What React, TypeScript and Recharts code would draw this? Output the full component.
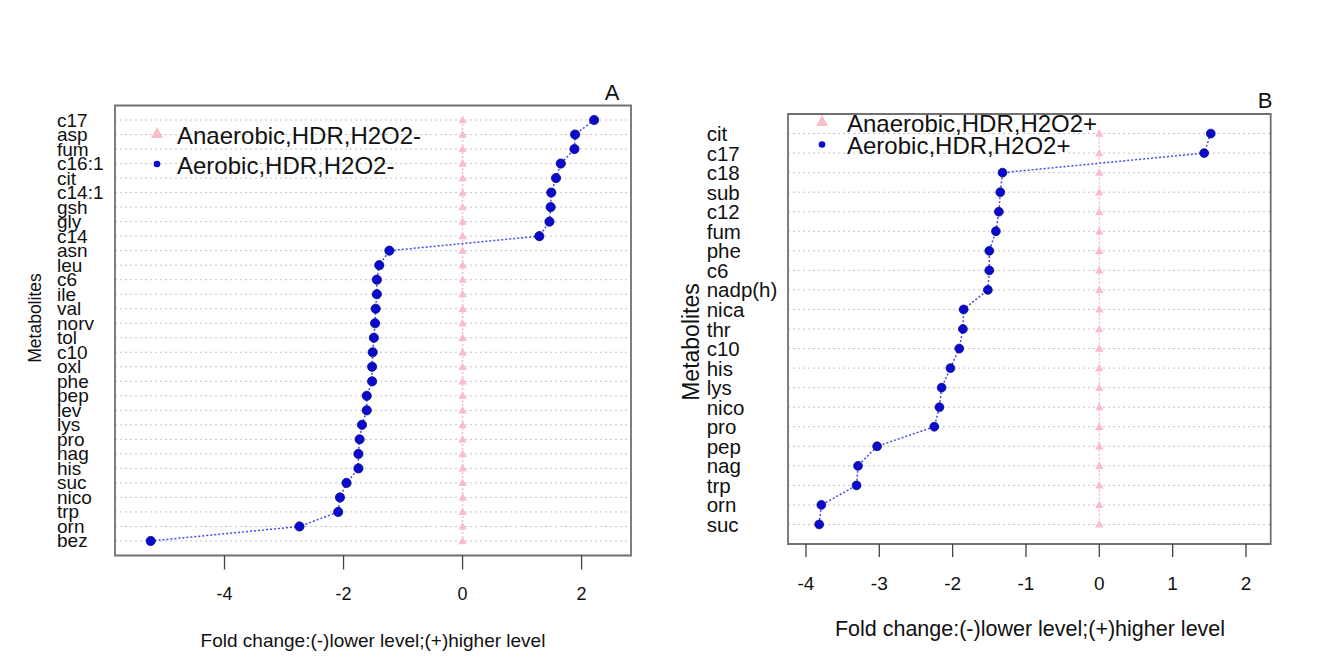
import React from "react";
import { ScatterChart, Scatter, XAxis, YAxis, CartesianGrid, ReferenceArea } from "recharts";

// panel A
const leftNames = ["c17", "asp", "fum", "c16:1", "cit", "c14:1", "gsh", "gly", "c14", "asn", "leu", "c6", "ile", "val", "norv", "tol", "c10", "oxl", "phe", "pep", "lev", "lys", "pro", "nag", "his", "suc", "nico", "trp", "orn", "bez"];
const leftAerobic = [2.21, 1.89, 1.88, 1.65, 1.57, 1.49, 1.48, 1.46, 1.29, -1.23, -1.4, -1.44, -1.44, -1.46, -1.47, -1.49, -1.51, -1.52, -1.52, -1.61, -1.61, -1.69, -1.73, -1.75, -1.75, -1.95, -2.06, -2.09, -2.74, -5.24];
const leftAnaerobic = [0, 0, 0, 0, 0, 0, 0, 0, 0, 0, 0, 0, 0, 0, 0, 0, 0, 0, 0, 0, 0, 0, 0, 0, 0, 0, 0, 0, 0, 0];
const leftTicks = [-4, -2, 0, 2];

// panel B
const rightNames = ["cit", "c17", "c18", "sub", "c12", "fum", "phe", "c6", "nadp(h)", "nica", "thr", "c10", "his", "lys", "nico", "pro", "pep", "nag", "trp", "orn", "suc"];
const rightAerobic = [1.52, 1.43, -1.32, -1.35, -1.37, -1.41, -1.5, -1.5, -1.52, -1.85, -1.86, -1.91, -2.03, -2.15, -2.18, -2.25, -3.03, -3.29, -3.31, -3.79, -3.82];
const rightAnaerobic = [0, 0, 0, 0, 0, 0, 0, 0, 0, 0, 0, 0, 0, 0, 0, 0, 0, 0, 0, 0, 0];
const rightTicks = [-4, -3, -2, -1, 0, 1, 2];

const FONT = "'Liberation Sans', Arial, sans-serif";
const PINK = "#f9bcc8";
const BLUE = "#0a0acd";

const rows = (vals: number[]) => vals.map((v, i) => ({ fc: v, pos: vals.length - i }));

const Dot = (r: number) => (p: any) => (
  <circle cx={p.cx} cy={p.cy} r={r} fill={BLUE} stroke="#06068a" strokeWidth={0.8} />
);
const Tri = (s: number) => (p: any) => (
  <polygon points={`${p.cx - s},${p.cy + s * 0.75} ${p.cx + s},${p.cy + s * 0.75} ${p.cx},${p.cy - s}`} fill={PINK} />
);

interface PanelProps {
  names: string[];
  aerobic: number[];
  anaerobic: number[];
  ticks: number[];
  domain: [number, number];
  width: number;
  height: number;
  margin: { top: number; right: number; left: number; bottom: number };
  yWidth: number;
  xHeight: number;
  labelX: number;
  labelSize: number;
  tickSize: number;
  tickMargin: number;
  tickFont: number;
  dotR: number;
}

const Panel = (p: PanelProps) => {
  const n = p.names.length;
  const yTicks = p.names.map((_, i) => n - i);
  return (
    <ScatterChart width={p.width} height={p.height} margin={p.margin}>
      <CartesianGrid vertical={false} stroke="#c4c4c4" strokeDasharray="2 3" />
      <XAxis
        type="number"
        dataKey="fc"
        domain={p.domain}
        allowDataOverflow
        ticks={p.ticks}
        height={p.xHeight}
        axisLine={false}
        tickSize={p.tickSize}
        tickMargin={p.tickMargin}
        tickLine={{ stroke: "#444", strokeWidth: 1.3 }}
        tick={{ fill: "#111", fontSize: p.tickFont, fontFamily: FONT }}
      />
      <YAxis
        type="number"
        dataKey="pos"
        domain={[0, n + 1]}
        allowDataOverflow
        ticks={yTicks}
        interval={0}
        width={p.yWidth}
        axisLine={false}
        tickLine={false}
        tick={(t: any) => (
          <text
            x={p.labelX}
            y={t.y}
            textAnchor="start"
            dominantBaseline="central"
            fontSize={p.labelSize}
            fontFamily={FONT}
            fill="#111"
          >
            {p.names[n - t.payload.value]}
          </text>
        )}
      />
      <Scatter
        data={rows(p.anaerobic)}
        isAnimationActive={false}
        line={{ stroke: PINK, strokeWidth: 1.5, strokeDasharray: "2 2" }}
        lineType="joint"
        shape={Tri(4.2)}
      />
      <Scatter
        data={rows(p.aerobic)}
        isAnimationActive={false}
        line={{ stroke: "#4848f0", strokeWidth: 1.5, strokeDasharray: "2 2" }}
        lineType="joint"
        shape={Dot(p.dotR)}
      />
      <ReferenceArea
        x1={p.domain[0]}
        x2={p.domain[1]}
        y1={0}
        y2={n + 1}
        fill="none"
        fillOpacity={0}
        stroke="#707070"
        strokeWidth={1.8}
      />
    </ScatterChart>
  );
};

const Legend = ({ x, y1, y2, tx, labels }: { x: number; y1: number; y2: number; tx: number; labels: string[] }) => (
  <g fontFamily={FONT} fontSize={24} fill="#111">
    <polygon points={`${x - 6},${y1 + 5} ${x + 6},${y1 + 5} ${x},${y1 - 6}`} fill={PINK} />
    <text x={tx} y={y1 + 2} dominantBaseline="central">{labels[0]}</text>
    <circle cx={x} cy={y2} r={3.3} fill={BLUE} />
    <text x={tx} y={y2 + 1} dominantBaseline="central">{labels[1]}</text>
  </g>
);

const App = () => {
  return (
    <div style={{ position: "absolute", left: 0, top: 0, width: 1327, height: 666, background: "#fff", fontFamily: FONT }}>
      <div style={{ position: "absolute", left: 0, top: 0 }}>
        <Panel
          names={leftNames}
          aerobic={leftAerobic}
          anaerobic={leftAnaerobic}
          ticks={leftTicks}
          domain={[-5.84, 2.83]}
          width={660}
          height={666}
          margin={{ top: 105.5, right: 29, left: 0, bottom: 0 }}
          yWidth={115}
          xHeight={110.5}
          labelX={57}
          labelSize={19}
          tickSize={14}
          tickMargin={18}
          tickFont={18}
          dotR={4.6}
        />
      </div>
      <div style={{ position: "absolute", left: 660, top: 0 }}>
        <Panel
          names={rightNames}
          aerobic={rightAerobic}
          anaerobic={rightAnaerobic}
          ticks={rightTicks}
          domain={[-4.245, 2.337]}
          width={667}
          height={666}
          margin={{ top: 114, right: 56.3, left: 0, bottom: 0 }}
          yWidth={128}
          xHeight={122}
          labelX={46.7}
          labelSize={20.5}
          tickSize={13}
          tickMargin={20}
          tickFont={19}
          dotR={4.4}
        />
      </div>
      <svg width={1327} height={666} style={{ position: "absolute", left: 0, top: 0, pointerEvents: "none" }}>
        <g fontFamily={FONT} fill="#111">
          <text x={35} y={318} fontSize={17.5} textAnchor="middle" dominantBaseline="central" transform="rotate(-90 35 318)">Metabolites</text>
          <text x={691} y={342} fontSize={23} textAnchor="middle" dominantBaseline="central" transform="rotate(-90 691 342)">Metabolites</text>
          <text x={373} y={640} fontSize={19} textAnchor="middle" dominantBaseline="central">Fold change:(-)lower level;(+)higher level</text>
          <text x={1030} y={629} fontSize={21.5} textAnchor="middle" dominantBaseline="central">Fold change:(-)lower level;(+)higher level</text>
          <text x={612} y={92} fontSize={22} textAnchor="middle" dominantBaseline="central">A</text>
          <text x={1265} y={100} fontSize={22} textAnchor="middle" dominantBaseline="central">B</text>
        </g>
        <Legend x={157} y1={133} y2={164} tx={177} labels={["Anaerobic,HDR,H2O2-", "Aerobic,HDR,H2O2-"]} />
        <Legend x={822} y1={121} y2={144.5} tx={847} labels={["Anaerobic,HDR,H2O2+", "Aerobic,HDR,H2O2+"]} />
      </svg>
    </div>
  );
};

export default App;
